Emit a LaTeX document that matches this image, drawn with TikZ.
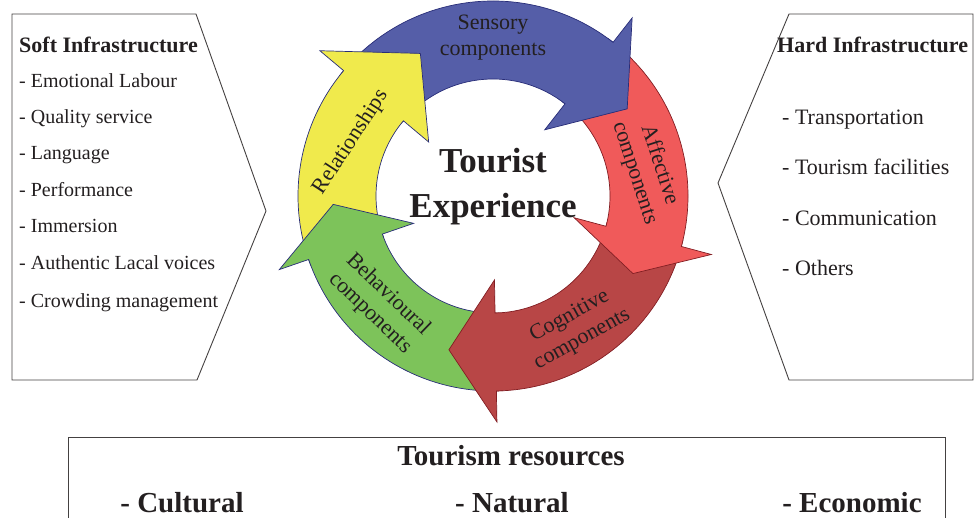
\documentclass[tikz,border=0pt]{standalone}
\usepackage{fontspec}
\setmainfont{Liberation Serif}
\usepackage{tikz}
\usepackage{xcolor}
\definecolor{tesensory}{RGB}{85,94,168}
\definecolor{tenavy}{RGB}{40,45,120}
\definecolor{teaffective}{RGB}{240,90,90}
\definecolor{tecognitive}{RGB}{184,70,70}
\definecolor{tedarkred}{RGB}{130,30,35}
\definecolor{tebehaviour}{RGB}{125,195,90}
\definecolor{terelation}{RGB}{240,234,76}
\definecolor{tetext}{RGB}{35,31,32}
\tikzstyle{panel} = [draw=tetext!85, line width=0.9pt]
\tikzstyle{heading} = [anchor=base west, inner sep=0pt, text=tetext, font=\fontsize{22}{26}\selectfont\bfseries]
\tikzstyle{item} = [anchor=base west, inner sep=0pt, text=tetext, font=\fontsize{20}{24}\selectfont]
\tikzstyle{hitem} = [item, font=\fontsize{22}{26}\selectfont]
\tikzstyle{ringlabel} = [align=center, inner sep=0pt, text=tetext, font=\fontsize{22}{26}\selectfont]
\tikzstyle{centre} = [anchor=base, inner sep=0pt, text=tetext, font=\fontsize{35}{42}\selectfont\bfseries]
\tikzstyle{resource} = [anchor=base, inner sep=0pt, text=tetext, font=\fontsize{29}{34}\selectfont\bfseries]
\tikzstyle{rim} = [line width=0.7pt, line join=miter]
% ring radii
\newcommand{\tein}{117}
\newcommand{\teout}{195}
\newcommand{\tewin}{84}
\newcommand{\tewout}{226}
\newcommand{\tetip}{160}
% shaft: fill, line, tail angle, base angle
\newcommand{\ringshaft}[4]{%
  \fill[#1] (#3:\teout) arc[start angle=#3, end angle=#4, radius=\teout] -- (#4:\tein) arc[start angle=#4, end angle=#3, radius=\tein] -- cycle;
  \draw[rim, #2] (#3:\teout) arc[start angle=#3, end angle=#4, radius=\teout];
  \draw[rim, #2] (#3:\tein) arc[start angle=#3, end angle=#4, radius=\tein];
}
% head: fill, line, base angle, tip angle
\newcommand{\ringhead}[4]{%
  \fill[#1] (#3+2:\teout) arc[start angle=#3+2, end angle=#3, radius=\teout] -- (#3:\tewout) -- (#4:\tetip) -- (#3:\tewin) -- (#3:\tein) arc[start angle=#3, end angle=#3+2, radius=\tein] -- cycle;
  \draw[rim, #2] (#3+2:\teout) arc[start angle=#3+2, end angle=#3, radius=\teout] -- (#3:\tewout) -- (#4:\tetip) -- (#3:\tewin) -- (#3:\tein) arc[start angle=#3, end angle=#3+2, radius=\tein];
}

\begin{document}
\begin{tikzpicture}[x=1pt, y=-1pt]
\useasboundingbox (0,0) rectangle (975,518);

% Soft infrastructure
\draw[panel] (12,14) -- (196,14) -- (266,211) -- (197,380) -- (12,380) -- cycle;
\node[heading] (softtitle) at (19,53) {Soft Infrastructure};
\node[item] (soft1) at (19,88) {- Emotional Labour};
\node[item] (soft2) at (19,124) {- Quality service};
\node[item] (soft3) at (19,160) {- Language};
\node[item] (soft4) at (19,197) {- Performance};
\node[item] (soft5) at (19,233) {- Immersion};
\node[item] (soft6) at (19,270) {- Authentic Lacal voices};
\node[item] (soft7) at (19,308) {- Crowding management};

% Hard infrastructure
\draw[panel] (789,14) -- (973,14) -- (973,380) -- (789,380) -- (718,183) -- cycle;
\node[heading] (hardtitle) at (777,53) {Hard Infrastructure};
\node[hitem] (hard1) at (782,125) {- Transportation};
\node[hitem] (hard2) at (782,175) {- Tourism facilities};
\node[hitem] (hard3) at (782,226) {- Communication};
\node[hitem] (hard4) at (782,276) {- Others};

% Experience cycle
\begin{scope}[shift={(493,196)}, y=1pt]
\ringshaft{tesensory}{tenavy}{138}{52}
\ringshaft{teaffective}{tedarkred}{50}{-15}
\ringshaft{tecognitive}{tedarkred}{-17}{-89}
\ringshaft{tebehaviour}{tenavy}{-91}{-161}
\ringshaft{terelation}{tenavy}{-163}{-220}
\ringhead{tesensory}{tenavy}{52}{33}
\ringhead{teaffective}{tedarkred}{-15}{-29}
\ringhead{tecognitive}{tedarkred}{-89}{-106}
\ringhead{tebehaviour}{tenavy}{-161}{-177}
\ringhead{terelation}{tenavy}{-220}{-243}
\end{scope}
\node[ringlabel] (sensory) at (493,38) {Sensory\\components};
\node[ringlabel, rotate=-72] (affective) at (647,169) {Affective\\components};
\node[ringlabel, rotate=29] (cognitive) at (576,328) {Cognitive\\components};
\node[ringlabel, rotate=-44] (behavioural) at (379,304) {Behavioural\\components};
\node[ringlabel, rotate=57] (relation) at (351,142) {Relationships};
\node[centre] (tourist) at (493,173) {Tourist};
\node[centre] (experience) at (493,218) {Experience};

% Tourism resources
\draw[panel] (68,518) -- (68,437) -- (945,437) -- (945,518);
\node[resource] (restitle) at (511,466) {Tourism resources};
\node[resource] (cultural) at (182,512) {- Cultural};
\node[resource] (natural) at (512,512) {- Natural};
\node[resource] (economic) at (852,512) {- Economic};
\end{tikzpicture}
\end{document}
